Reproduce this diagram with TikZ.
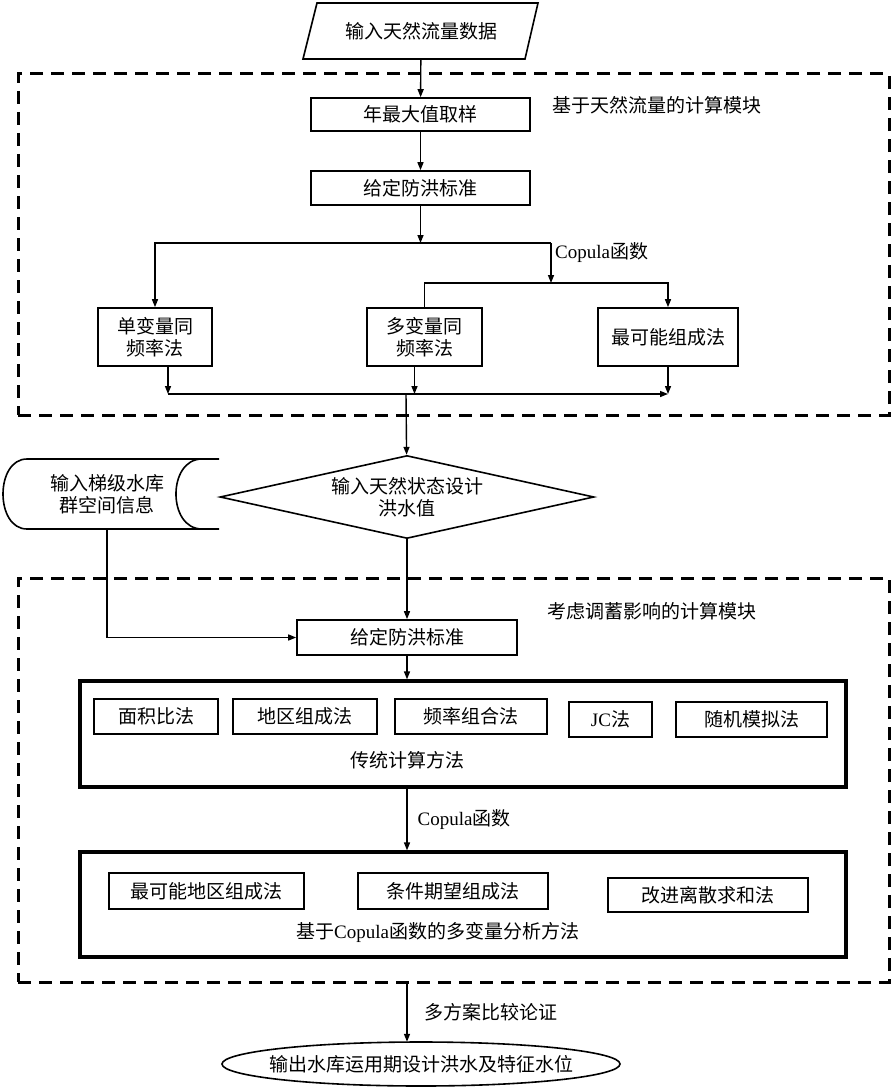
\documentclass[tikz,border=0pt]{standalone}
\usepackage{fontspec}
\setmainfont{Noto Sans CJK SC}
\newfontfamily\lat{Liberation Serif}
\usetikzlibrary{arrows.meta,shapes.geometric}

\begin{document}
\begin{tikzpicture}[x=1pt,y=-1pt,
  font=\fontsize{19}{22}\selectfont,
  box/.style={draw,line width=1.6pt,inner sep=0pt,align=center},
  bigbox/.style={draw,line width=3.2pt,inner sep=0pt},
  module/.style={draw,line width=3pt,dash pattern=on 13pt off 8pt,inner sep=0pt},
  arr/.style={line width=1.4pt,-{Triangle[length=8pt,width=6pt]}},
  lbl/.style={inner sep=0pt,anchor=west}]
\useasboundingbox (0,0) rectangle (893,1089);

% the two modules
\node[module,minimum width=871pt,minimum height=341pt] (mod1) at (453.5,244.5) {};
\node[module,minimum width=871pt,minimum height=404pt] (mod2) at (453.5,780) {};
\node[lbl] (t1) at (552,105) {基于天然流量的计算模块};
\node[lbl] (t2) at (547,611) {考虑调蓄影响的计算模块};

% input data
\draw[line width=1.6pt] (317,3) -- (538,3) -- (525,59) -- (303,59) -- cycle;
\node[inner sep=0pt,minimum height=56pt] (inp) at (421,31) {输入天然流量数据};

\node[box,minimum width=219pt,minimum height=33pt] (samp) at (420.5,114.5) {年最大值取样};
\node[box,minimum width=219pt,minimum height=34pt] (std1) at (420.5,188) {给定防洪标准};
\node[box,minimum width=114pt,minimum height=58pt] (uni) at (155,337) {单变量同\\频率法};
\node[box,minimum width=115pt,minimum height=58pt] (multi) at (424.5,337) {多变量同\\频率法};
\node[box,minimum width=140pt,minimum height=58pt] (most) at (668,337) {最可能组成法};

\coordinate (b1) at (420.5,243);
\coordinate (b1r) at (551,243);
\coordinate (b2) at (551,283);
\coordinate (j) at (406,394);

\draw[arr] (inp) -- (samp);
\draw[arr] (samp) -- (std1);
\draw[arr] (std1) -- (b1);
\draw[arr] (b1r) -| (uni);
\draw[arr] (b1r) -- (b2);
\node[lbl] (cop1) at (555,253) {{\lat Copula}函数};
\draw[arr] (multi.north) |- (b2) -| (most);
\draw[arr] ([xshift=13pt]uni.south) -- ([xshift=13pt]uni.south |- j);
\draw[arr] ([xshift=-10pt]multi.south) -- ([xshift=-10pt]multi.south |- j);
\draw[arr] (most) -- (most.south |- j);
\draw[arr] ([xshift=13pt]uni.south |- j) -- (most.south |- j);

% diamond and reservoir data
\node[draw,diamond,aspect=4.5,line width=1.6pt,inner sep=0pt,minimum width=374pt,minimum height=83pt,align=center] (dia) at (407,497) {输入天然状态设计\\洪水值};
\draw[arr] (j) -- (dia);
\draw[line width=1.6pt] (219,459) -- (27,459) .. controls (-5,459) and (-5,529) .. (27,529) -- (219,529);
\draw[line width=1.6pt] (202,459) .. controls (167.3,459) and (167.3,529) .. (202,529);
\node[inner sep=0pt,minimum height=70pt,align=center] (src) at (107,494) {输入梯级水库\\群空间信息};

\node[box,minimum width=220pt,minimum height=35pt] (std2) at (407,637.5) {给定防洪标准};
\draw[arr] (dia) -- (std2);
\draw[arr] (src.south) |- (std2);

% traditional methods
\node[bigbox,minimum width=766pt,minimum height=106pt] (trad) at (463,734) {};
\node[box,minimum width=124pt,minimum height=35pt] (m1) at (156,716.5) {面积比法};
\node[box,minimum width=144pt,minimum height=35pt] (m2) at (305,716.5) {地区组成法};
\node[box,minimum width=152pt,minimum height=35pt] (m3) at (471,716.5) {频率组合法};
\node[box,minimum width=83pt,minimum height=35pt] (m4) at (610.5,719.5) {{\lat JC}法};
\node[box,minimum width=151pt,minimum height=35pt] (m5) at (751.5,719.5) {随机模拟法};
\node[inner sep=0pt] (tradt) at (407,760) {传统计算方法};
\draw[arr] (std2) -- (std2 |- trad.north);

% copula methods
\node[bigbox,minimum width=766pt,minimum height=105pt] (cop) at (463,904.5) {};
\node[box,minimum width=195pt,minimum height=36pt] (c1) at (206.5,891) {最可能地区组成法};
\node[box,minimum width=190pt,minimum height=36pt] (c2) at (453,891) {条件期望组成法};
\node[box,minimum width=200pt,minimum height=34pt] (c3) at (708,895) {改进离散求和法};
\node[lbl] (copt) at (296,932) {基于{\lat Copula}函数的多变量分析方法};
\draw[arr] (std2 |- trad.south) -- (std2 |- cop.north) node[lbl,midway,xshift=10pt] {{\lat Copula}函数};

% output
\node[inner sep=0pt,minimum width=398pt,minimum height=44pt] (res) at (421,1064) {输出水库运用期设计洪水及特征水位};
\draw[line width=1.6pt] (res.center) ellipse [x radius=199, y radius=22];
\draw[arr] (std2 |- mod2.south) -- (std2 |- res.north) node[lbl,midway,xshift=17pt] {多方案比较论证};
\end{tikzpicture}
\end{document}
